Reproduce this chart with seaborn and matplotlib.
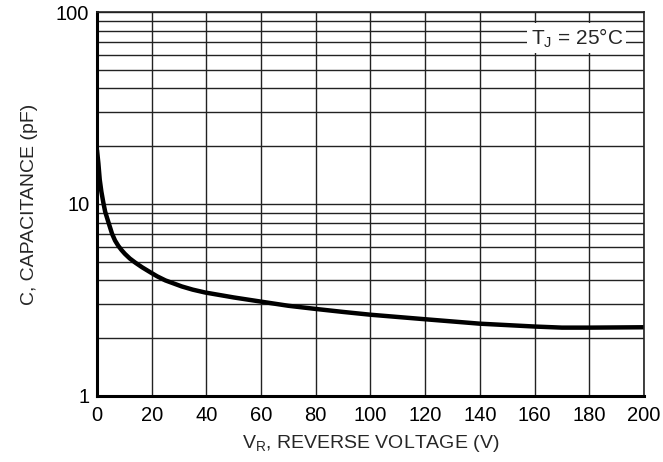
import matplotlib
matplotlib.use("Agg")
import matplotlib.pyplot as plt
import matplotlib.ticker as mticker
import seaborn as sns
import pandas as pd

# Werte
voltage = [0, 0.5, 1, 1.6, 2.3, 3, 4.1, 5.5, 6.6, 7.8, 9, 10.2, 12, 14,
           16.5, 19.6, 22, 25, 31, 35, 39.5, 50, 60, 70, 80, 90, 100, 120,
           140, 160, 170, 180, 200]
capacitance = [19.1, 16.3, 13.4, 11.6, 10.2, 9.1, 8.1, 7.0, 6.45, 6.05, 5.75,
               5.5, 5.2, 4.95, 4.68, 4.4, 4.2, 4.0, 3.72, 3.58, 3.46, 3.26,
               3.10, 2.95, 2.84, 2.74, 2.65, 2.51, 2.38, 2.30, 2.27, 2.27,
               2.28]
x_ticks = list(range(0, 201, 20))
y_ticks = [1, 10, 100]
y_tick_labels = ["1", "10", "100"]

sns.set_style("white")
plt.rcParams["font.family"] = ["Liberation Sans", "DejaVu Sans"]
plt.rcParams["mathtext.fontset"] = "custom"
plt.rcParams["mathtext.rm"] = "Liberation Sans"
plt.rcParams["mathtext.it"] = "Liberation Sans"

df = pd.DataFrame({"v": voltage, "c": capacitance})

fig = plt.figure(figsize=(6.63, 4.62), dpi=100)
ax = fig.add_axes([0.1463, 0.1429, 0.8250, 0.8311])

ax.set_yscale("log")
ax.set_xlim(0, 200)
ax.set_ylim(1, 100)
ax.set_xticks(x_ticks)
ax.set_yticks(y_ticks)
ax.set_yticklabels(y_tick_labels)
ax.yaxis.set_minor_locator(mticker.LogLocator(base=10, subs=range(2, 10)))
ax.yaxis.set_minor_formatter(mticker.NullFormatter())

ax.grid(which="both", axis="both", color="#222222", lw=1.0)
ax.set_axisbelow(True)

sns.lineplot(data=df, x="v", y="c", ax=ax, color="black", lw=3.2)

for side in ["left", "bottom"]:
    ax.spines[side].set_linewidth(2.2)
    ax.spines[side].set_color("black")
for side in ["top", "right"]:
    ax.spines[side].set_linewidth(1.2)
    ax.spines[side].set_color("#222222")

ax.tick_params(which="both", length=0, labelsize=14.5, colors="black")
ax.tick_params(axis="y", pad=5.5)
ax.tick_params(axis="x", pad=7)

ax.set_xlabel("V$_\\mathrm{R}$, REVERSE VOLTAGE (V)", fontsize=14, labelpad=6)
ax.set_ylabel("C, CAPACITANCE (pF)", fontsize=14, labelpad=13)

ax.text(0.877, 0.932, "T$_\\mathrm{J}$ = 25°C", transform=ax.transAxes,
        ha="center", va="center", fontsize=15,
        bbox=dict(facecolor="white", edgecolor="none", pad=2.5))

fig.savefig("out.png", dpi=100)
plt.close(fig)
